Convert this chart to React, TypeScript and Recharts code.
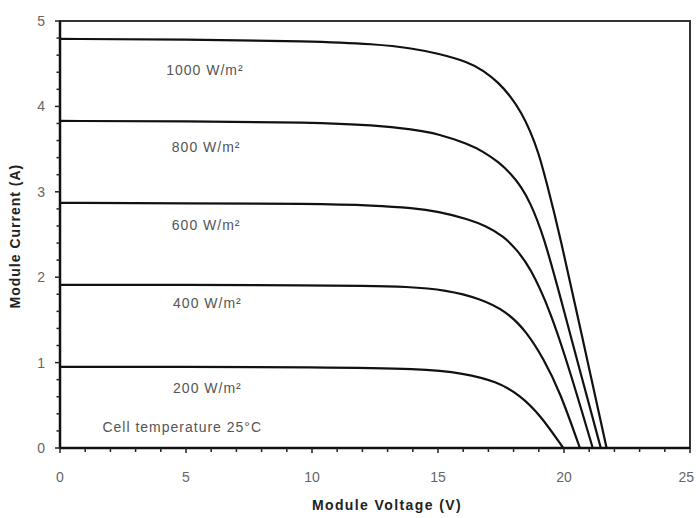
import React from "react";
import { LineChart, Line, XAxis, YAxis, ReferenceArea, ReferenceDot } from "recharts";

// I-V curves (volts, amps)
const v1000 = [0, 5, 10, 12.5, 14, 15, 16.2, 16.8, 17.4, 17.9, 18.3, 18.65, 19.0, 19.3, 19.84, 20.7, 21.69];
const i1000 = [4.79, 4.785, 4.765, 4.73, 4.68, 4.62, 4.52, 4.42, 4.28, 4.11, 3.93, 3.72, 3.45, 3.12, 2.49, 1.33, 0];

const v800 = [0, 5, 10, 12.5, 14, 15, 16.2, 16.8, 17.4, 17.9, 18.3, 18.65, 19.18, 19.9, 20.6, 21.46];
const i800 = [3.83, 3.825, 3.815, 3.78, 3.73, 3.68, 3.56, 3.47, 3.35, 3.21, 3.06, 2.88, 2.5, 1.72, 0.94, 0];

const v600 = [0, 5, 10, 12.5, 14, 15, 16.2, 16.9, 17.6, 18.1, 18.65, 19.44, 20.24, 21.14];
const i600 = [2.87, 2.865, 2.86, 2.84, 2.81, 2.77, 2.68, 2.6, 2.48, 2.33, 2.12, 1.62, 0.9, 0];

const v400 = [0, 5, 10, 12, 13.76, 15.34, 16.67, 17.72, 18.52, 19.18, 19.84, 20.63];
const i400 = [1.91, 1.91, 1.905, 1.9, 1.89, 1.85, 1.75, 1.6, 1.36, 1.05, 0.66, 0];

const v200 = [0, 5, 10, 14.42, 16.0, 17.33, 18.25, 19.05, 19.97];
const i200 = [0.95, 0.95, 0.945, 0.93, 0.875, 0.78, 0.62, 0.39, 0];

const xTicks = [0, 1, 2, 3, 4, 5, 6, 7, 8, 9, 10, 11, 12, 13, 14, 15, 16, 17, 18, 19, 20, 21, 22, 23, 24, 25];
const yTicks = [0, 0.2, 0.4, 0.6, 0.8, 1, 1.2, 1.4, 1.6, 1.8, 2, 2.2, 2.4, 2.6, 2.8, 3, 3.2, 3.4, 3.6, 3.8, 4, 4.2, 4.4, 4.6, 4.8, 5];

// curve labels: text, voltage, current
const curveLabels = ["1000 W/m²", "800 W/m²", "600 W/m²", "400 W/m²", "200 W/m²", "Cell temperature 25°C"];
const labelV = [5.75, 5.8, 5.8, 5.85, 5.85, 4.85];
const labelI = [4.43, 3.53, 2.61, 1.7, 0.7, 0.25];

const zip = (vs: number[], is: number[]) => vs.map((v, k) => ({ v, i: is[k] }));

const series = [
  { name: "1000", data: zip(v1000, i1000) },
  { name: "800", data: zip(v800, i800) },
  { name: "600", data: zip(v600, i600) },
  { name: "400", data: zip(v400, i400) },
  { name: "200", data: zip(v200, i200) },
];

const font = "'Liberation Sans', Arial, sans-serif";
const isMajor = (val: number, step: number) => Math.abs(val / step - Math.round(val / step)) < 1e-6;

const XTick = (props: any) => {
  const { x, y, payload } = props;
  const major = isMajor(payload.value, 5);
  const last = payload.value === 25;
  return (
    <g>
      <line x1={x} x2={x} y1={y} y2={y + (major ? 5 : 4)} stroke="#222" strokeWidth={1.5} />
      {major && (
        <text
          x={last ? x + 4 : x}
          y={y + 34}
          textAnchor={last ? "end" : "middle"}
          fontSize={14}
          fill="#666"
          fontFamily={font}
        >
          {payload.value}
        </text>
      )}
    </g>
  );
};

const YTick = (props: any) => {
  const { x, y, payload } = props;
  const major = isMajor(payload.value, 1);
  return (
    <g>
      <line x1={x} x2={x - (major ? 5 : 3.5)} y1={y} y2={y} stroke="#222" strokeWidth={1.5} />
      {major && (
        <text x={x - 15} y={y + 5} textAnchor="end" fontSize={14} fill="#666" fontFamily={font}>
          {payload.value}
        </text>
      )}
    </g>
  );
};

export default function App() {
  return (
    <div style={{ position: "absolute", left: 0, top: 0, width: 696, height: 518, background: "#fff" }}>
      <LineChart width={696} height={518} margin={{ top: 21, right: 6, bottom: 30, left: 20 }}>
        <XAxis
          type="number"
          dataKey="v"
          domain={[0, 25]}
          ticks={xTicks}
          interval={0}
          tickSize={0}
          tickMargin={0}
          tickLine={false}
          tick={<XTick />}
          axisLine={{ stroke: "#111", strokeWidth: 2.5 }}
          height={40}
          label={{
            value: "Module Voltage (V)",
            position: "insideBottom",
            offset: -22,
            dx: 12,
            fontSize: 14,
            fontWeight: 700,
            fill: "#222",
            fontFamily: font,
            letterSpacing: 1.4,
          }}
        />
        <YAxis
          type="number"
          dataKey="i"
          domain={[0, 5]}
          ticks={yTicks}
          interval={0}
          tickSize={0}
          tickMargin={0}
          tickLine={false}
          tick={<YTick />}
          axisLine={{ stroke: "#111", strokeWidth: 2.5 }}
          width={40}
          label={{
            value: "Module Current (A)",
            angle: -90,
            position: "insideLeft",
            offset: -5,
            dy: 74,
            fontSize: 14,
            fontWeight: 700,
            fill: "#222",
            fontFamily: font,
            letterSpacing: 1,
          }}
        />
        <ReferenceArea x1={0} x2={25} y1={0} y2={5} fill="none" stroke="#333" strokeWidth={2} />
        {series.map((s) => (
          <Line
            key={s.name}
            data={s.data}
            dataKey="i"
            type="basis"
            stroke="#111"
            strokeWidth={2.2}
            dot={false}
            activeDot={false}
            isAnimationActive={false}
          />
        ))}
        {curveLabels.map((t, k) => (
          <ReferenceDot
            key={t}
            x={labelV[k]}
            y={labelI[k]}
            r={0}
            shape={(p: any) => (
              <text
                x={p.cx}
                y={p.cy + 5}
                textAnchor="middle"
                fontSize={14}
                fill="#555"
                fontFamily={font}
                letterSpacing={1}
              >
                {t}
              </text>
            )}
          />
        ))}
      </LineChart>
    </div>
  );
}
